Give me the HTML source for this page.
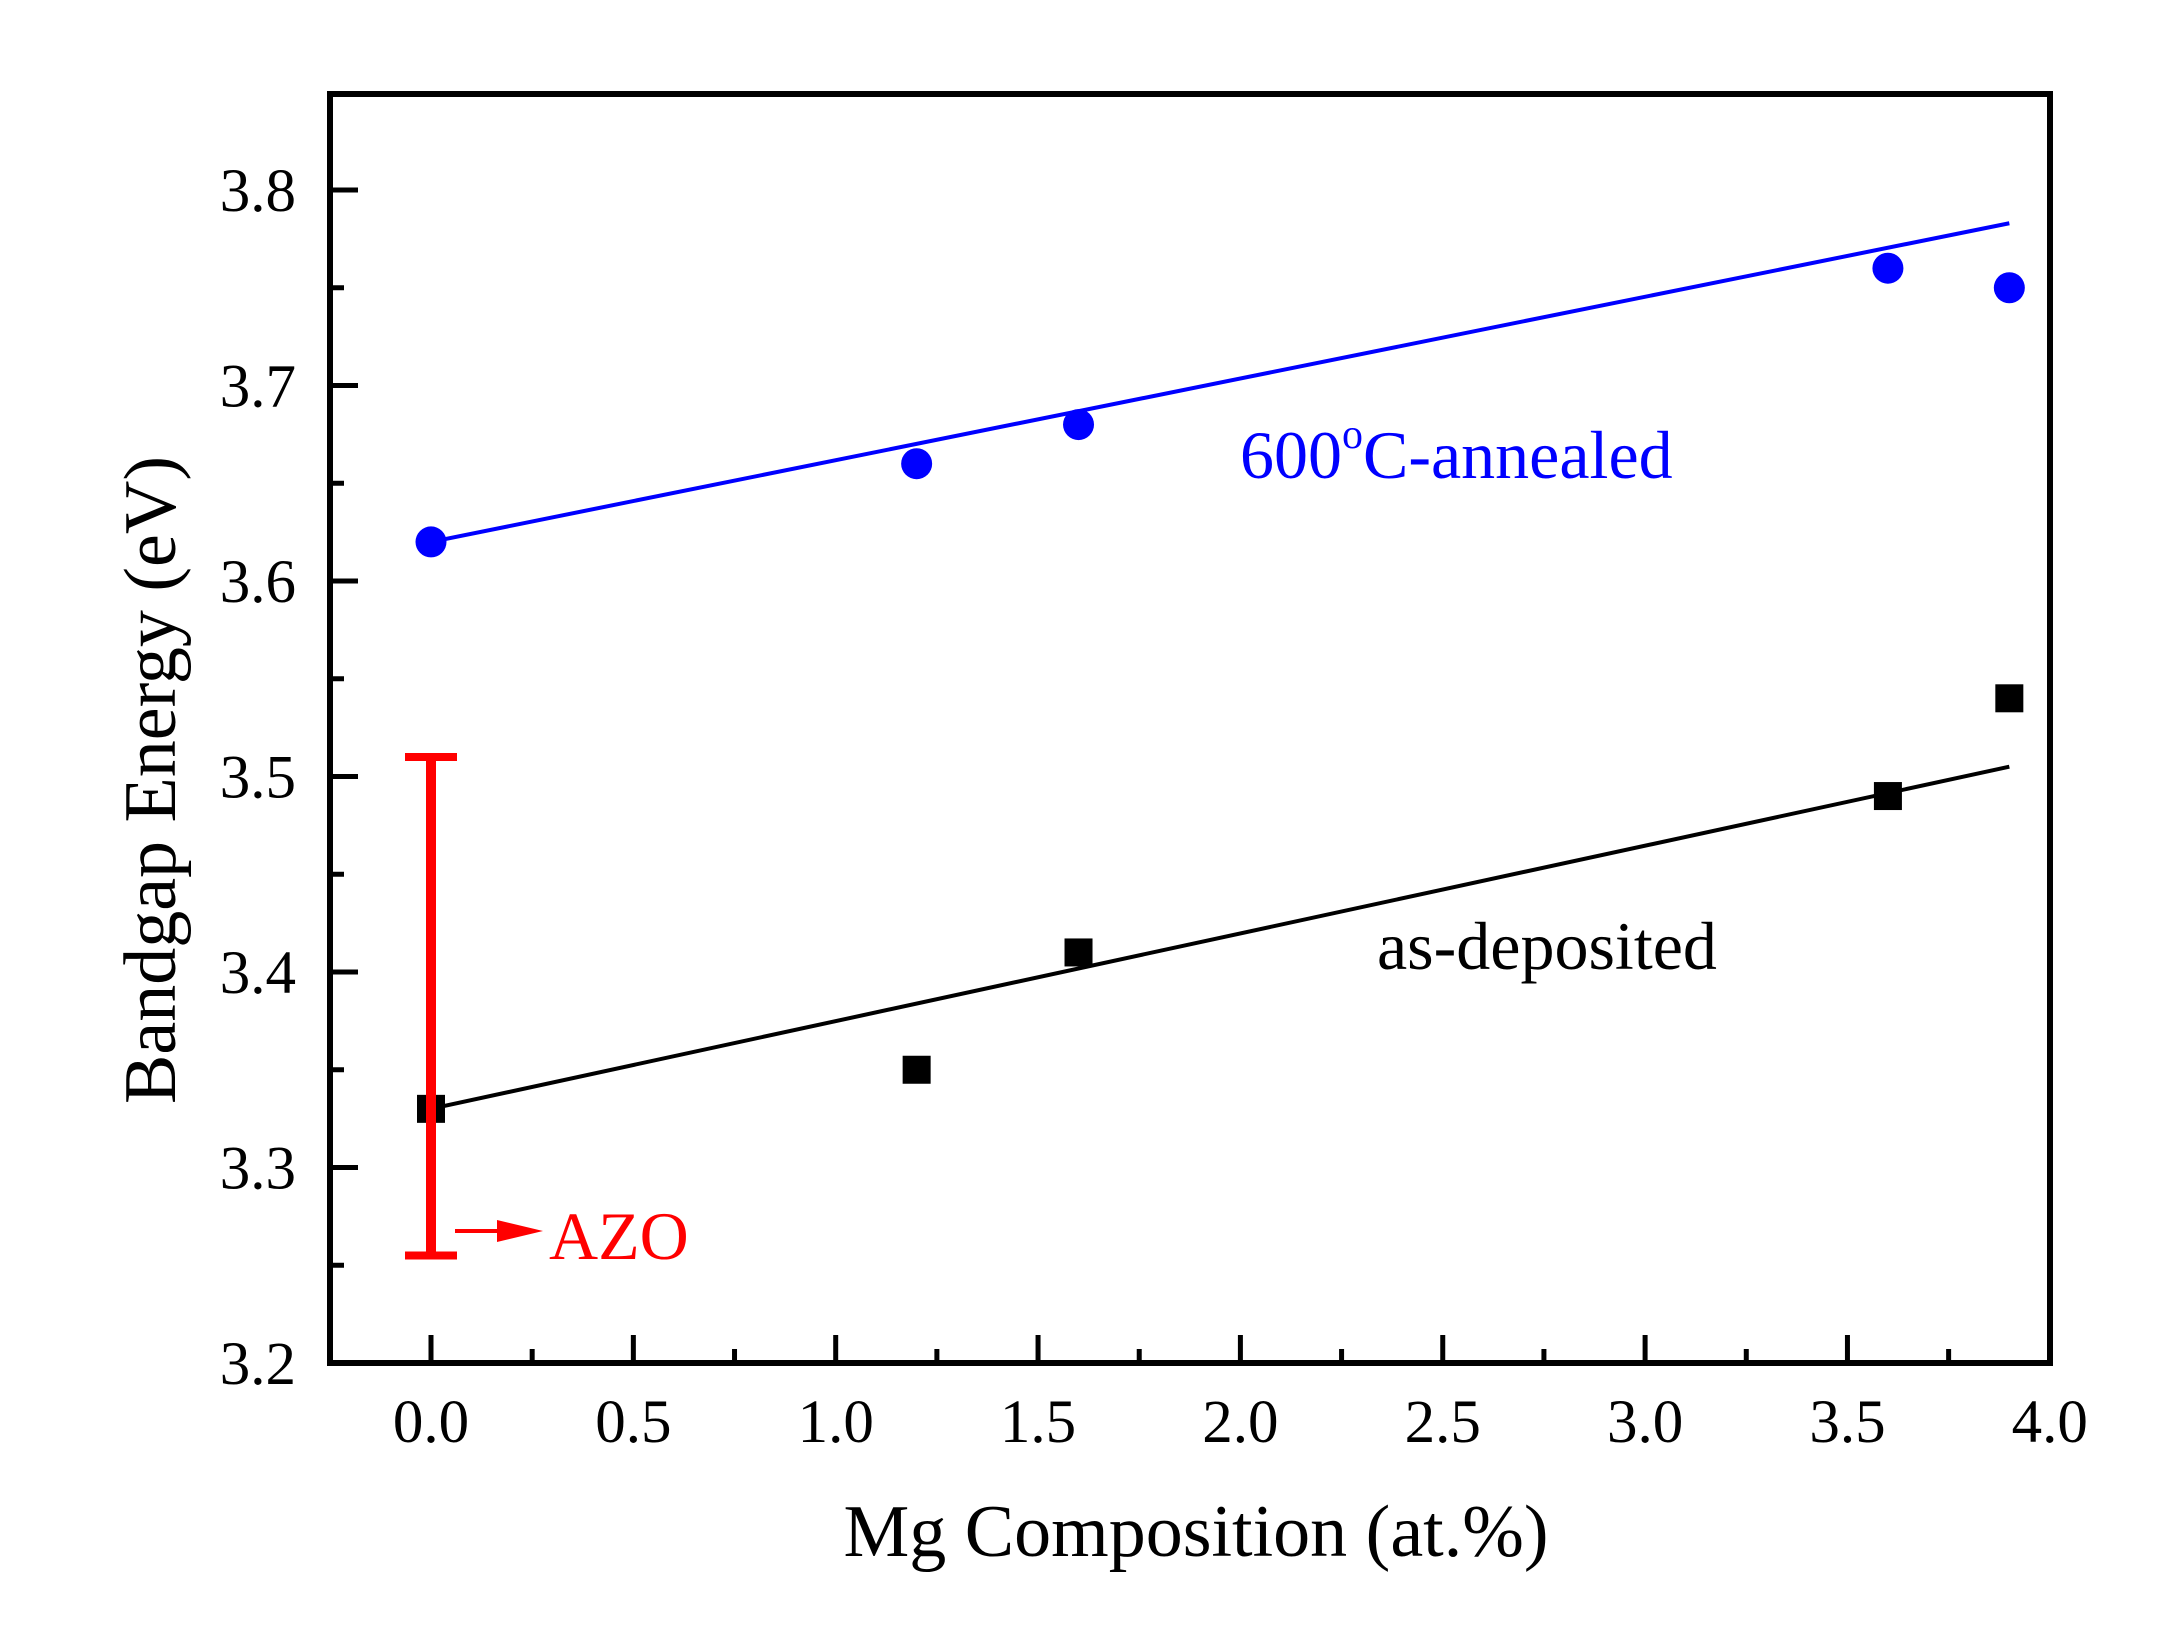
<!DOCTYPE html>
<html><head><meta charset="utf-8"><style>
html,body{margin:0;padding:0;background:#fff}
svg{display:block}
text{font-family:"Liberation Serif",serif}
</style></head><body>
<svg id="chart" width="2182" height="1642" viewBox="0 0 2182 1642" xmlns="http://www.w3.org/2000/svg">
<rect x="330" y="94" width="1720" height="1269" fill="none" stroke="#000" stroke-width="6"/>
<g id="ticks"></g>
<g id="marks"></g>
<text x="1196" y="1556" font-size="74" text-anchor="middle">Mg Composition (at.%)</text>
<text transform="translate(175,780) rotate(-90)" font-size="74" text-anchor="middle">Bandgap Energy (eV)</text>
<text x="1240" y="478" font-size="68" fill="#0000ff">600<tspan font-size="42" dy="-30">o</tspan><tspan dy="30">C-annealed</tspan></text>
<text x="1377" y="969" font-size="68" fill="#000">as-deposited</text>
<text x="549" y="1259" font-size="68" fill="#ff0000">AZO</text>
</svg>
<script>
const annealedX=[0,1.2,1.6,3.6,3.9];
const annealedY=[3.62,3.66,3.68,3.76,3.75];
const depositedX=[0,1.2,1.6,3.6,3.9];
const depositedY=[3.33,3.35,3.41,3.49,3.54];
const annealedFitX=[0,3.9];
const annealedFitY=[3.62,3.783];
const depositedFitX=[0,3.9];
const depositedFitY=[3.33,3.505];
const azoX=0;
const azoRange=[3.255,3.51];
const xTicks=["0.0","0.5","1.0","1.5","2.0","2.5","3.0","3.5","4.0"];
const yTicks=["3.2","3.3","3.4","3.5","3.6","3.7","3.8"];

const NS="http://www.w3.org/2000/svg";
const sx=v=>431+v*404.7;
const sy=v=>1363-(v-3.2)*1955;
function mk(tag,attrs,parent,text){const e=document.createElementNS(NS,tag);for(const k in attrs)e.setAttribute(k,attrs[k]);if(text!==undefined)e.textContent=text;parent.appendChild(e);return e;}
const T=document.getElementById('ticks'),M=document.getElementById('marks');
for(let i=0;i<16;i++){const vv=i*0.25;const x=sx(vv);const major=i%2===0;
const t=mk('line',{x1:x,x2:x,y1:1363,y2:1363-(major?28:14),stroke:'#000','stroke-width':5},T);

}
xTicks.forEach(s=>{const l=mk('text',{x:sx(parseFloat(s)),y:1442,'font-size':61,'text-anchor':'middle'},T,s);

});
for(let i=0;i<=12;i++){const v=3.2+i*0.05;const y=sy(v);const major=i%2===0;
const t=mk('line',{x1:330,x2:330+(major?28:14),y1:y,y2:y,stroke:'#000','stroke-width':5},T);

}
yTicks.forEach(s=>{const l=mk('text',{x:296,y:sy(parseFloat(s))+21,'font-size':61,'text-anchor':'end'},T,s);

});
let f=mk('line',{x1:sx(annealedFitX[0]),y1:sy(annealedFitY[0]),x2:sx(annealedFitX[1]),y2:sy(annealedFitY[1]),stroke:'#0000ff','stroke-width':4},M);


f=mk('line',{x1:sx(depositedFitX[0]),y1:sy(depositedFitY[0]),x2:sx(depositedFitX[1]),y2:sy(depositedFitY[1]),stroke:'#000','stroke-width':4},M);


annealedX.forEach((x,i)=>{const c=mk('circle',{cx:sx(x),cy:sy(annealedY[i]),r:15.5,fill:'#0000ff'},M);

});
depositedX.forEach((x,i)=>{const r=mk('rect',{x:sx(x)-14,y:sy(depositedY[i])-14,width:28,height:28,fill:'#000'},M);

});
const ax=sx(azoX),yt=sy(azoRange[1]),yb=sy(azoRange[0]);
let e=mk('line',{x1:ax,x2:ax,y1:yt,y2:yb,stroke:'#ff0000','stroke-width':10},M);


e=mk('line',{x1:ax-26,x2:ax+26,y1:yt,y2:yt,stroke:'#ff0000','stroke-width':8},M);


e=mk('line',{x1:ax-26,x2:ax+26,y1:yb,y2:yb,stroke:'#ff0000','stroke-width':8},M);


e=mk('line',{x1:455,x2:505,y1:1231,y2:1231,stroke:'#ff0000','stroke-width':4},M);


e=mk('polygon',{points:'497,1220 543,1231 497,1242',fill:'#ff0000'},M);


</script>
</body></html>
